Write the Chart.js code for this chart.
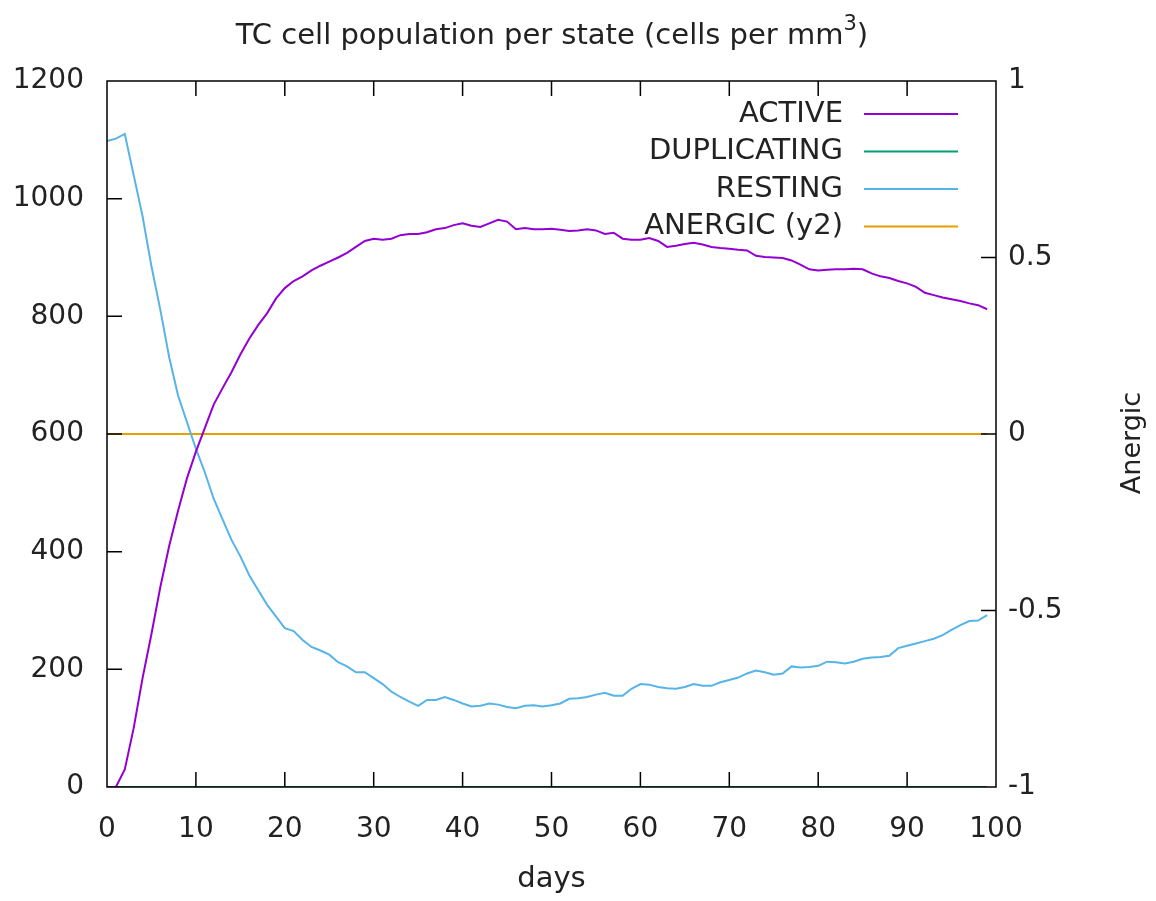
<!DOCTYPE html>
<html>
<head>
<meta charset="utf-8">
<script src="https://cdn.jsdelivr.net/npm/chart.js@4.4.1/dist/chart.umd.min.js"></script>
<style>
  html, body { margin: 0; padding: 0; background: #fff; }
  #wrap { width: 1156px; height: 901px; }
</style>
</head>
<body>
<div id="wrap"><canvas id="tcChart" width="1156" height="901"></canvas></div>
<script>
// days 0..99
const days = [];
for (let d = 0; d < 100; d++) days.push(d);

const active = [
  0, 0, 30, 100, 185, 260, 340, 410, 470, 525,
  570, 610, 650, 678, 705, 735, 762, 785, 805, 830,
  848, 860, 868, 878, 886, 893, 900, 908, 918, 928,
  932, 930, 932, 938, 940, 940, 943, 948, 950, 955,
  958, 954, 952, 958, 964, 961, 948, 950, 948, 948,
  949, 947, 945, 946, 948, 946, 940, 942, 932, 930,
  930, 933, 928, 918, 920, 923, 925, 922, 918, 916,
  915, 913, 912, 903, 901, 900, 899, 895, 888, 880,
  878, 879, 880, 880, 881, 880, 873, 868, 865, 860,
  856, 850, 840, 836, 832, 829, 826, 822, 819, 812
];

const duplicating = [
  0, 0, 0, 0, 0, 0, 0, 0, 0, 0,
  0, 0, 0, 0, 0, 0, 0, 0, 0, 0,
  0, 0, 0, 0, 0, 0, 0, 0, 0, 0,
  0, 0, 0, 0, 0, 0, 0, 0, 0, 0,
  0, 0, 0, 0, 0, 0, 0, 0, 0, 0,
  0, 0, 0, 0, 0, 0, 0, 0, 0, 0,
  0, 0, 0, 0, 0, 0, 0, 0, 0, 0,
  0, 0, 0, 0, 0, 0, 0, 0, 0, 0,
  0, 0, 0, 0, 0, 0, 0, 0, 0, 0,
  0, 0, 0, 0, 0, 0, 0, 0, 0, 0
];

const resting = [
  1098, 1102, 1110, 1040, 970, 885, 811, 730, 665, 620,
  575, 535, 490, 455, 420, 392, 360, 335, 310, 290,
  270, 265, 250, 238, 232, 225, 212, 205, 195, 195,
  185, 175, 162, 153, 145, 138, 148, 148, 153, 148,
  142, 137, 138, 142, 140, 136, 134, 138, 139, 137,
  139, 142, 150, 151, 153, 157, 160, 155, 155, 167,
  175, 174, 170, 168, 167, 170, 175, 172, 172, 178,
  182, 186, 193, 198, 195, 191, 193, 205, 203, 204,
  206, 213, 212, 210, 213, 218, 220, 221, 223, 236,
  240, 244, 248, 252, 258, 267, 275, 282, 283, 292
];

const anergic = days.map(() => 0);

const xTicks = [0, 10, 20, 30, 40, 50, 60, 70, 80, 90, 100];
const yTicks = [0, 200, 400, 600, 800, 1000, 1200];
const y2Ticks = [-1, -0.5, 0, 0.5, 1];

const FONT = "'DejaVu Sans', sans-serif";
const TEXT = '#222';

function pts(arr) {
  return days.map((d, i) => ({ x: d, y: arr[i] }));
}

// gnuplot-like frame, inward ticks, title, legend, y2 title
const framePlugin = {
  id: 'frame',
  afterDatasetsDraw(chart) {
    const { ctx, chartArea: a, scales } = chart;
    ctx.save();
    ctx.strokeStyle = '#000';
    ctx.lineWidth = 1.5;
    ctx.strokeRect(a.left, a.top, a.right - a.left, a.bottom - a.top);
    const tl = 15;
    ctx.beginPath();
    xTicks.forEach(v => {
      const px = scales.x.getPixelForValue(v);
      if (v === 0 || v === 100) return;
      ctx.moveTo(px, a.bottom); ctx.lineTo(px, a.bottom - tl);
      ctx.moveTo(px, a.top); ctx.lineTo(px, a.top + tl);
    });
    yTicks.forEach(v => {
      const py = scales.y.getPixelForValue(v);
      if (v === 0 || v === 1200) return;
      ctx.moveTo(a.left, py); ctx.lineTo(a.left + tl, py);
    });
    y2Ticks.forEach(v => {
      const py = scales.y2.getPixelForValue(v);
      if (v === -1 || v === 1) return;
      ctx.moveTo(a.right, py); ctx.lineTo(a.right - tl, py);
    });
    ctx.stroke();

    // legend
    ctx.font = '29px ' + FONT;
    ctx.textAlign = 'right';
    ctx.textBaseline = 'middle';
    chart.data.datasets.forEach((ds, i) => {
      const y = 114 + i * 37.5;
      ctx.fillStyle = TEXT;
      ctx.fillText(ds.label, 843, y);
      ctx.strokeStyle = ds.borderColor;
      ctx.lineWidth = 2;
      ctx.beginPath();
      ctx.moveTo(864, y); ctx.lineTo(958, y);
      ctx.stroke();
    });
    ctx.restore();
  },
  afterDraw(chart) {
    const { ctx } = chart;
    ctx.save();
    ctx.fillStyle = TEXT;
    ctx.textBaseline = 'middle';
    // title with superscript
    const main = 'TC cell population per state (cells per mm';
    ctx.font = '29px ' + FONT;
    const w1 = ctx.measureText(main).width;
    ctx.font = '21px ' + FONT;
    const w3 = ctx.measureText('3').width;
    ctx.font = '29px ' + FONT;
    const w4 = ctx.measureText(')').width;
    let x = 552 - (w1 + w3 + w4) / 2;
    ctx.textAlign = 'left';
    ctx.fillText(main, x, 36);
    x += w1;
    ctx.font = '21px ' + FONT;
    ctx.fillText('3', x, 25);
    x += w3;
    ctx.font = '29px ' + FONT;
    ctx.fillText(')', x, 36);

    // y2 title
    ctx.translate(1133, 443);
    ctx.rotate(-Math.PI / 2);
    ctx.textAlign = 'center';
    ctx.font = '27px ' + FONT;
    ctx.fillText('Anergic', 0, 0);
    ctx.restore();
  }
};

const plain = v => String(v);

const ctx = document.getElementById('tcChart').getContext('2d');
new Chart(ctx, {
  type: 'line',
  data: {
    datasets: [
      { label: 'ACTIVE', data: pts(active), borderColor: '#9400d3', yAxisID: 'y' },
      { label: 'DUPLICATING', data: pts(duplicating), borderColor: '#009e73', yAxisID: 'y' },
      { label: 'RESTING', data: pts(resting), borderColor: '#56b4e9', yAxisID: 'y' },
      { label: 'ANERGIC (y2)', data: pts(anergic), borderColor: '#e69f00', yAxisID: 'y2' }
    ].map(ds => Object.assign(ds, {
      borderWidth: 2, pointRadius: 0, tension: 0, fill: false
    }))
  },
  options: {
    responsive: false,
    animation: false,
    layout: { padding: { top: 81, left: 0, right: 0, bottom: 0 } },
    plugins: {
      legend: { display: false },
      title: { display: false },
      tooltip: { enabled: false }
    },
    scales: {
      x: {
        type: 'linear', min: 0, max: 100,
        afterFit(s) { s.height = 114; },
        afterBuildTicks(s) { s.ticks = xTicks.map(v => ({ value: v })); },
        grid: { display: false, drawTicks: false },
        border: { display: false },
        ticks: { color: TEXT, font: { size: 28, family: FONT }, padding: 26, maxRotation: 0, callback: plain },
        title: { display: true, text: 'days', color: TEXT, font: { size: 29, family: FONT }, padding: { top: 0, bottom: 4 } }
      },
      y: {
        position: 'left', min: 0, max: 1200,
        afterFit(s) { s.width = 107; },
        afterBuildTicks(s) { s.ticks = yTicks.map(v => ({ value: v })); },
        grid: { display: false, drawTicks: false },
        border: { display: false },
        ticks: { color: TEXT, font: { size: 28, family: FONT }, padding: 23, callback: plain }
      },
      y2: {
        position: 'right', min: -1, max: 1,
        afterFit(s) { s.width = 160; },
        afterBuildTicks(s) { s.ticks = y2Ticks.map(v => ({ value: v })); },
        grid: { display: false, drawTicks: false },
        border: { display: false },
        ticks: { color: TEXT, font: { size: 28, family: FONT }, padding: 12, callback: plain }
      }
    }
  },
  plugins: [framePlugin]
});
</script>
</body>
</html>
